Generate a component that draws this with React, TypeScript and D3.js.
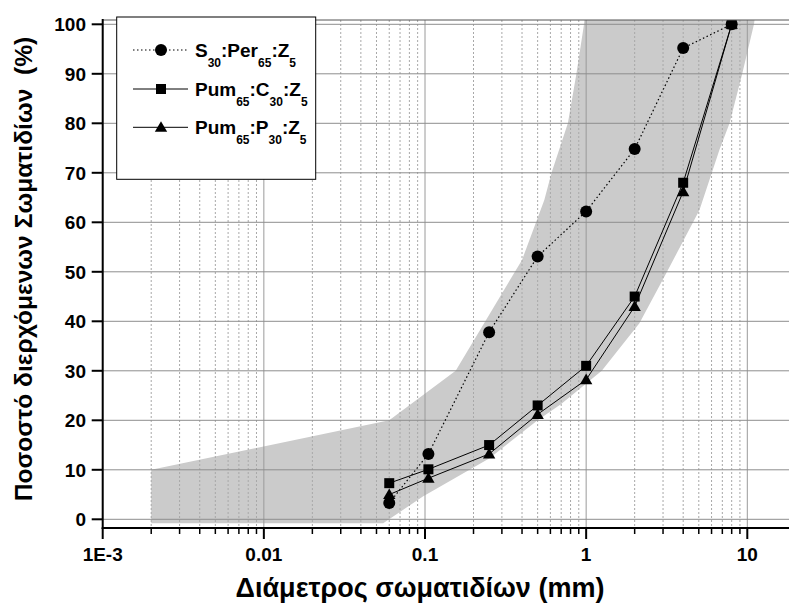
import React from 'react';
import * as d3 from 'd3';

// ---- data ----
const sieveSizes = [0.06, 0.105, 0.25, 0.5, 1, 2, 4, 8];
const s30Per65Z5 = [3.3, 13.2, 37.8, 53.1, 62.2, 74.8, 95.2, 100];
const pum65C30Z5 = [7.3, 10.1, 15.0, 23.0, 31.0, 45.0, 68.0, 100];
const pum65P30Z5 = [5.0, 8.3, 13.2, 21.2, 28.2, 43.0, 66.2, 100];

// grading envelope (shaded band)
const upperX = [0.002, 0.06, 0.155, 0.4, 0.55, 0.61, 0.77, 0.87, 0.97, 0.98];
const upperY = [10, 20, 30, 52.4, 64.5, 70, 80, 90, 100, 102];
const lowerX = [0.002, 0.055, 0.097, 0.25, 0.5, 0.7, 1.25, 2.14, 3.14, 5.05, 6.71, 7.76, 9.3, 11, 11.2];
const lowerY = [-0.8, -0.8, 4.6, 12.3, 20, 23.3, 30, 39.6, 49.7, 62.5, 74.6, 80, 90, 100, 102];

const xTickValues = [0.001, 0.01, 0.1, 1, 10];
const xTickLabels = ['1E-3', '0.01', '0.1', '1', '10'];
const yTickValues = [0, 10, 20, 30, 40, 50, 60, 70, 80, 90, 100];

const xTitle = 'Διάμετρος σωματιδίων (mm)';
const yTitle = 'Ποσοστό διερχόμενων Σωματιδίων  (%)';

const W = 789;
const H = 606;
const FONT = '"Liberation Sans", Arial, Helvetica, sans-serif';

export default function App() {
  const left = 102.7;
  const right = 810;
  const top = 20;
  const bottom = 528;

  const x = d3.scaleLog().domain([0.001, 10]).range([left, 747.3]);
  const y = d3.scaleLinear().domain([0, 100]).range([519.3, 24.3]);

  // minor ticks
  const minor: number[] = [];
  [0.001, 0.01, 0.1, 1, 10].forEach((d) => {
    for (let k = 2; k <= 9; k++) minor.push(d * k);
  });

  const bandPts: [number, number][] = [];
  upperX.forEach((v, i) => bandPts.push([v, upperY[i]]));
  for (let i = lowerX.length - 1; i >= 0; i--) bandPts.push([lowerX[i], lowerY[i]]);
  const bandPath =
    d3
      .line<[number, number]>()
      .x((d) => x(d[0]))
      .y((d) => y(d[1]))(bandPts) + 'Z';

  const lineGen = d3
    .line<number>()
    .x((_, i) => x(sieveSizes[i]))
    .y((d) => y(d));

  const tri = d3.symbol().type(d3.symbolTriangle).size(66)();
  const sq = d3.symbol().type(d3.symbolSquare).size(100)();

  const legendRows = [
    { kind: 'circle', dash: '1.5 2.5', parts: [['S', ''], ['30', 's'], [':Per', ''], ['65', 's'], [':Z', ''], ['5', 's']] },
    { kind: 'square', dash: '', parts: [['Pum', ''], ['65', 's'], [':C', ''], ['30', 's'], [':Z', ''], ['5', 's']] },
    { kind: 'tri', dash: '', parts: [['Pum', ''], ['65', 's'], [':P', ''], ['30', 's'], [':Z', ''], ['5', 's']] },
  ];
  const legendY = [50, 89, 127.3];

  const marker = (kind: string, cx: number, cy: number, key?: string | number) => {
    if (kind === 'circle') return <circle key={key} cx={cx} cy={cy} r={6} fill="#000" />;
    if (kind === 'square') return <path key={key} d={sq as string} transform={`translate(${cx},${cy})`} fill="#000" />;
    return <path key={key} d={tri as string} transform={`translate(${cx},${cy + 1})`} fill="#000" />;
  };

  return (
    <svg
      width={W}
      height={H}
      viewBox={`0 0 ${W} ${H}`}
      style={{ position: 'absolute', left: 0, top: 0, background: '#fff', fontFamily: FONT }}
    >
      <defs>
        <clipPath id="plotClip">
          <rect x={left} y={top} width={right - left} height={bottom - top} />
        </clipPath>
      </defs>
      <rect x={0} y={0} width={W} height={H} fill="#fff" />

      <g clipPath="url(#plotClip)">
        <path d={bandPath} fill="#cbcbcb" stroke="none" />
        {/* minor vertical grid */}
        {minor.map((m, i) => (
          <line key={'mg' + i} x1={x(m)} x2={x(m)} y1={top} y2={bottom} stroke="#a8a8a8" strokeWidth={1} strokeDasharray="2 2" />
        ))}
        {/* major vertical grid */}
        {xTickValues.map((t, i) => (
          <line key={'vg' + i} x1={x(t)} x2={x(t)} y1={top} y2={bottom} stroke="#9a9a9a" strokeWidth={1} />
        ))}
        {/* horizontal grid */}
        {yTickValues.map((t, i) => (
          <line key={'hg' + i} x1={left} x2={right} y1={y(t)} y2={y(t)} stroke="#8e8e8e" strokeWidth={1} />
        ))}

        {/* series lines */}
        <path d={lineGen(pum65P30Z5) as string} fill="none" stroke="#000" strokeWidth={1} />
        <path d={lineGen(pum65C30Z5) as string} fill="none" stroke="#000" strokeWidth={1} />
        <path d={lineGen(s30Per65Z5) as string} fill="none" stroke="#000" strokeWidth={1.2} strokeDasharray="1.5 2.5" />

        {pum65P30Z5.map((v, i) => marker('tri', x(sieveSizes[i]), y(v), 't' + i))}
        {pum65C30Z5.map((v, i) => marker('square', x(sieveSizes[i]), y(v), 's' + i))}
        {s30Per65Z5.map((v, i) => marker('circle', x(sieveSizes[i]), y(v), 'c' + i))}
      </g>

      {/* top frame */}
      <line x1={left} x2={W} y1={top} y2={top} stroke="#555" strokeWidth={1} />
      {/* axes */}
      <line x1={left} x2={left} y1={top - 1} y2={bottom + 1} stroke="#000" strokeWidth={2} />
      <line x1={left - 1} x2={W} y1={bottom} y2={bottom} stroke="#000" strokeWidth={2} />

      {/* x ticks */}
      {xTickValues.map((t, i) => (
        <g key={'xt' + i}>
          <line x1={x(t)} x2={x(t)} y1={bottom} y2={bottom + 11} stroke="#000" strokeWidth={2} />
          <text x={x(t)} y={561} textAnchor="middle" fontSize={19} fontWeight="bold">
            {xTickLabels[i]}
          </text>
        </g>
      ))}
      {minor.map((m, i) => (
        <line key={'xm' + i} x1={x(m)} x2={x(m)} y1={bottom} y2={bottom + 6} stroke="#000" strokeWidth={1.5} />
      ))}

      {/* y ticks */}
      {yTickValues.map((t, i) => (
        <g key={'yt' + i}>
          <line x1={left - 11} x2={left} y1={y(t)} y2={y(t)} stroke="#000" strokeWidth={2} />
          <text x={86} y={y(t) + 7} textAnchor="end" fontSize={19} fontWeight="bold">
            {t}
          </text>
        </g>
      ))}

      {/* titles */}
      <text x={420} y={597} textAnchor="middle" fontSize={27} fontWeight="bold">
        {xTitle}
      </text>
      <text
        transform={`translate(32,269) rotate(-90)`}
        textAnchor="middle"
        fontSize={24.6}
        fontWeight="bold"
        style={{ whiteSpace: 'pre' }}
      >
        {yTitle}
      </text>

      {/* legend */}
      <rect x={116.7} y={17} width={199} height={162.3} fill="#fff" stroke="#000" strokeWidth={1} />
      {legendRows.map((r, i) => (
        <g key={'lg' + i}>
          <line x1={133} x2={188} y1={legendY[i]} y2={legendY[i]} stroke="#000" strokeWidth={r.dash ? 1.2 : 1} strokeDasharray={r.dash || undefined} />
          {marker(r.kind, 161, legendY[i])}
          <text x={195} y={legendY[i] + 7} fontSize={19} fontWeight="bold">
            {r.parts.map((p, j) => {
              const sub = p[1] === 's';
              const prevSub = j > 0 && r.parts[j - 1][1] === 's';
              const dy = sub ? 9.5 : prevSub ? -9.5 : 0;
              return (
                <tspan key={j} fontSize={sub ? 12 : 19} dy={dy}>
                  {p[0]}
                </tspan>
              );
            })}
          </text>
        </g>
      ))}
    </svg>
  );
}
